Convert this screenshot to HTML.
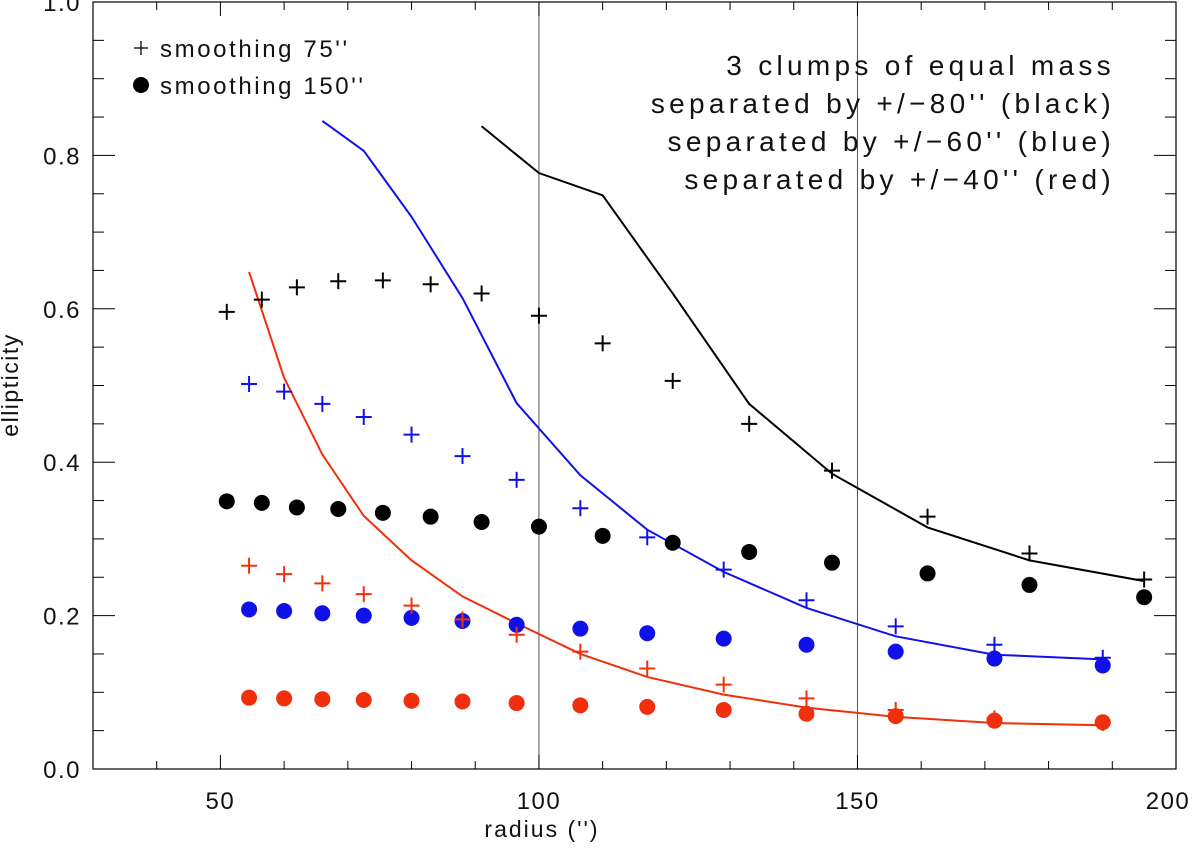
<!DOCTYPE html>
<html><head><meta charset="utf-8"><style>
html,body{margin:0;padding:0;background:#fff;}
svg{display:block;font-family:"Liberation Sans",sans-serif;}
</style></head><body>
<svg id="chart" width="1200" height="853" xmlns="http://www.w3.org/2000/svg">
<g id="axes"></g>
<g id="marks"></g>
<g font-size="24" fill="#111">
  <line x1="134" y1="48" x2="148" y2="48" stroke="#000" stroke-width="1.3"/>
  <line x1="141" y1="41" x2="141" y2="55" stroke="#000" stroke-width="1.3"/>
  <text x="160" y="57" letter-spacing="2.6">smoothing 75''</text>
  <circle cx="141" cy="85" r="8" fill="#000"/>
  <text x="160" y="94" letter-spacing="2.6">smoothing 150''</text>
</g>
<g font-size="28" text-anchor="end" letter-spacing="4.3" fill="#111">
  <text x="1115" y="75">3 clumps of equal mass</text>
  <text x="1115" y="113">separated by +/−80'' (black)</text>
  <text x="1115" y="151">separated by +/−60'' (blue)</text>
  <text x="1115" y="189">separated by +/−40'' (red)</text>
</g>
<text x="542" y="837" font-size="23" text-anchor="middle" letter-spacing="2" fill="#111">radius ('')</text>
<text transform="translate(18,385) rotate(-90)" font-size="23" text-anchor="middle" letter-spacing="1.5" fill="#111">ellipticity</text>
</svg>
<script>
const xTicks=[50,100,150,200];
const yTicks=[0.0,0.2,0.4,0.6,0.8,1.0];
const bX=[51,56.5,62,68.5,75.5,83,91,100,110,121,133,146,161,177,195];
const bPlus=[0.596,0.612,0.628,0.636,0.637,0.632,0.62,0.591,0.555,0.506,0.450,0.389,0.329,0.281,0.247];
const bDots=[0.349,0.347,0.341,0.339,0.334,0.329,0.322,0.316,0.304,0.295,0.283,0.269,0.255,0.240,0.224];
const bLineX=[91,100,110,121,133,146,161,177,195];
const bLine=[0.838,0.777,0.748,0.62,0.476,0.385,0.315,0.272,0.245];
const cX=[54.5,60,66,72.5,80,88,96.5,106.5,117,129,142,156,171.5,188.5];
const uPlus=[0.502,0.492,0.476,0.459,0.436,0.408,0.377,0.340,0.302,0.260,0.220,0.186,0.162,0.145];
const uDots=[0.208,0.206,0.203,0.200,0.197,0.193,0.188,0.183,0.177,0.170,0.162,0.153,0.144,0.135];
const uLineX=[66,72.5,80,88,96.5,106.5,117,129,142,156,171.5,188.5];
const uLine=[0.845,0.806,0.72,0.614,0.477,0.383,0.312,0.257,0.21,0.173,0.149,0.143];
const rPlus=[0.265,0.254,0.242,0.228,0.213,0.195,0.175,0.153,0.131,0.110,0.092,0.077,0.066,0.060];
const rDots=[0.093,0.092,0.091,0.090,0.089,0.088,0.086,0.083,0.081,0.077,0.072,0.069,0.063,0.061];
const rLineX=[54.5,60,66,72.5,80,88,96.5,106.5,117,129,142,156,171.5,188.5];
const rLine=[0.648,0.51,0.41,0.33,0.272,0.225,0.19,0.15,0.12,0.097,0.08,0.068,0.06,0.057];

const L=93,R=1176,T=2,B=769,X0=30,X1=200;
const sx=v=>L+(v-X0)/(X1-X0)*(R-L);
const sy=v=>B-v*(B-T);
const NS="http://www.w3.org/2000/svg";
function mk(tag,attrs,parent){const e=document.createElementNS(NS,tag);for(const k in attrs)e.setAttribute(k,attrs[k]);parent.appendChild(e);return e;}
const ax=document.getElementById('axes'), mk2=document.getElementById('marks');
const frame=mk('rect',{x:L,y:T,width:R-L,height:B-T,fill:'none',stroke:'#000','stroke-width':1.2},ax);


[100,150].forEach(v=>{const l=mk('line',{x1:sx(v),x2:sx(v),y1:T,y2:B,stroke:'#555','stroke-width':1},ax);

});
for(let v=40;v<200;v+=10){const maj=v%50===0,len=maj?14:8;
mk('line',{x1:sx(v),x2:sx(v),y1:B,y2:B-len,stroke:'#000'},ax);mk('line',{x1:sx(v),x2:sx(v),y1:T,y2:T+len,stroke:'#000'},ax);}
for(let i=1;i<20;i++){const v=i*0.05,maj=i%4===0,len=maj?22:11;
mk('line',{x1:L,x2:L+len,y1:sy(v),y2:sy(v),stroke:'#000'},ax);mk('line',{x1:R,x2:R-len,y1:sy(v),y2:sy(v),stroke:'#000'},ax);}
xTicks.forEach(v=>{const t=mk('text',{x:Math.min(sx(v),1168),y:B+40,'font-size':24,'text-anchor':'middle','letter-spacing':1.5,fill:'#111'},ax);t.textContent=String(v);

});
yTicks.forEach(v=>{const t=mk('text',{x:L-12,y:sy(v)+9,'font-size':24,'text-anchor':'end','letter-spacing':1.5,fill:'#111'},ax);t.textContent=v.toFixed(1);

});
function line(xs,ys,c,name){const p=mk('polyline',{points:xs.map((x,i)=>sx(x)+','+sy(ys[i])).join(' '),fill:'none',stroke:c,'stroke-width':2},mk2);

}
function dots(xs,ys,c,name){xs.forEach((x,i)=>{const d=mk('circle',{cx:sx(x),cy:sy(ys[i]),r:8,fill:c},mk2);

});}
function plus(xs,ys,c,name){xs.forEach((x,i)=>{const X=sx(x),Y=sy(ys[i]);const g=mk('g',{stroke:c,'stroke-width':2},mk2);


mk('line',{x1:X-8,x2:X+8,y1:Y,y2:Y},g);mk('line',{x1:X,x2:X,y1:Y-8,y2:Y+8},g);});}
const BK='#000',BL='#1010e8',RD='#f0300c';
line(bLineX,bLine,BK,'black-line');line(uLineX,uLine,BL,'blue-line');line(rLineX,rLine,RD,'red-line');
dots(bX,bDots,BK,'black-dot');dots(cX,uDots,BL,'blue-dot');dots(cX,rDots,RD,'red-dot');
plus(bX,bPlus,BK,'black-plus');plus(cX,uPlus,BL,'blue-plus');plus(cX,rPlus,RD,'red-plus');
</script>
</body></html>
